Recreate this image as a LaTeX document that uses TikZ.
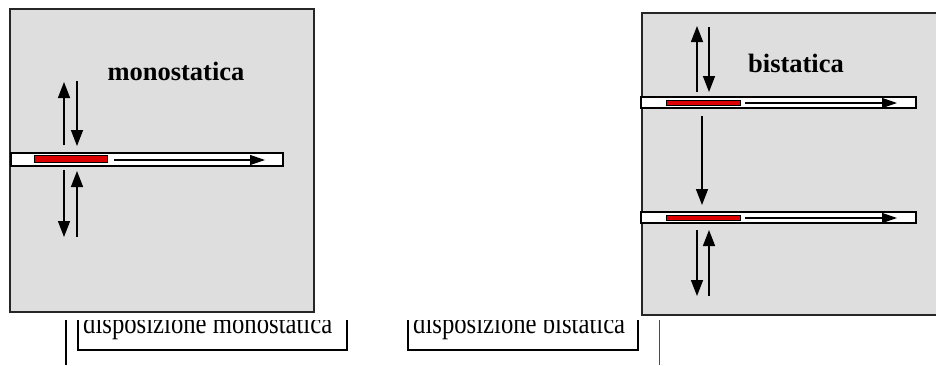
\documentclass[tikz,border=0pt]{standalone}
\usepackage{fontspec}
\setmainfont{Liberation Serif}
\usetikzlibrary{arrows.meta}
\definecolor{panelgray}{HTML}{DEDEDE}
\definecolor{emred}{HTML}{DD0000}
\begin{document}
\begin{tikzpicture}[x=1pt,y=-1pt,
  panel/.style={draw=black!85,line width=1.6pt,fill=panelgray},
  tube/.style={draw=black,line width=1.4pt,fill=white},
  emitter/.style={draw=black,line width=0.9pt,fill=emred},
  wave/.style={line width=1.5pt,-{Triangle[length=16pt,width=12pt]}},
  flow/.style={line width=1.2pt,-{Triangle[length=15pt,width=10pt]}},
  title/.style={font=\fontsize{26.5}{28}\selectfont\bfseries,inner sep=0},
  caption/.style={font=\fontsize{24.7}{26}\selectfont,anchor=base west,inner sep=0},
  bracket/.style={line width=2.6pt},
  rule/.style={line width=0.9pt,draw=black!70}]
\useasboundingbox (0,0) rectangle (936,365);
\fill[white] (0,0) rectangle (936,365);

% ---- monostatic panel ----
\draw[panel] (10,9) rectangle (314,312);
\draw[tube] (11,153) rectangle (283,166);
\draw[emitter] (34,155) rectangle (107,162);
\coordinate (mfs) at (114,160); \coordinate (mfe) at (265,160);
\draw[flow] (mfs) -- (mfe);
\node[title] (mtitle) at (176,71) {monostatica};
\coordinate (m1s) at (64,145); \coordinate (m1e) at (64,82);
\coordinate (m2s) at (77,81);  \coordinate (m2e) at (77,146);
\coordinate (m3s) at (64,170); \coordinate (m3e) at (64,237);
\coordinate (m4s) at (77,237); \coordinate (m4e) at (77,171);
\draw[wave] (m1s) -- (m1e);
\draw[wave] (m2s) -- (m2e);
\draw[wave] (m3s) -- (m3e);
\draw[wave] (m4s) -- (m4e);

% ---- bistatic panel ----
\draw[panel] (642,13) rectangle (948,315);
\draw[tube] (641,97) rectangle (916,108);
\draw[emitter] (666,100) rectangle (740,105);
\draw[tube] (641,212) rectangle (916,223);
\draw[emitter] (666,215) rectangle (740,220);
\coordinate (bf1s) at (745,103); \coordinate (bf1e) at (897,103);
\coordinate (bf2s) at (745,218); \coordinate (bf2e) at (897,218);
\draw[flow] (bf1s) -- (bf1e);
\draw[flow] (bf2s) -- (bf2e);
\node[title] (btitle) at (796,63) {bistatica};
\coordinate (b1s) at (697,92);  \coordinate (b1e) at (697,26);
\coordinate (b2s) at (709,27);  \coordinate (b2e) at (709,92);
\coordinate (b3s) at (702,116); \coordinate (b3e) at (702,205);
\coordinate (b4s) at (697,230); \coordinate (b4e) at (697,296);
\coordinate (b5s) at (709,296); \coordinate (b5e) at (709,230);
\draw[wave] (b1s) -- (b1e);
\draw[wave] (b2s) -- (b2e);
\draw[wave] (b3s) -- (b3e);
\draw[wave] (b4s) -- (b4e);
\draw[wave] (b5s) -- (b5e);

% ---- captions ----
\draw[bracket] (66,320) -- (66,365);
\draw[rule] (659,320) -- (659,365);
\begin{scope}
  \clip (60,320) rectangle (700,365);
  \node[caption] (cmono) at (83,333) {\scalebox{1}[1.2]{disposizione monostatica}};
  \node[caption] (cbi) at (413,333) {\scalebox{1}[1.2]{disposizione bistatica}};
  \draw[bracket] (78,318) -- (78,350) -- (347,350) -- (347,318);
  \draw[bracket] (408,318) -- (408,350) -- (638,350) -- (638,318);
\end{scope}
\end{tikzpicture}
\end{document}
